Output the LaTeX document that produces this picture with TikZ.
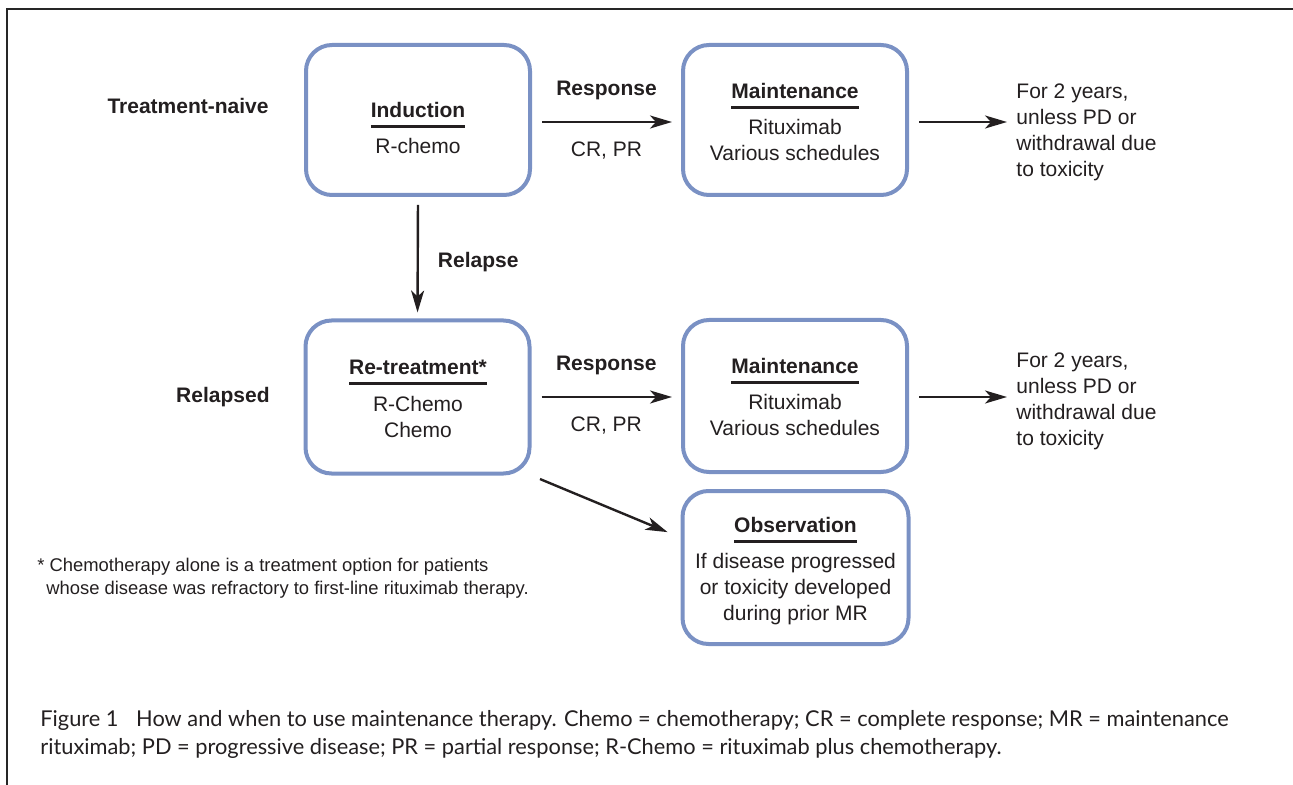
\documentclass[tikz,border=0pt]{standalone}
\usepackage{fontspec}
\setmainfont{Liberation Sans}
\newfontfamily\capfont{Lato}
\usetikzlibrary{arrows.meta,positioning}

\definecolor{boxblue}{RGB}{122,145,196}
\definecolor{ink}{RGB}{35,31,32}

\newsavebox\titlebox
\newcommand{\boxtitle}[1]{\sbox\titlebox{\bfseries #1}\rlap{\rule[-5.25pt]{\wd\titlebox}{1.5pt}}\usebox\titlebox}

\tikzset{
  stage/.style={draw=boxblue, line width=2pt, rounded corners=13pt,
    minimum width=112pt, minimum height=75pt, inner sep=0pt},
  stagetext/.style={align=center, inner sep=0pt, anchor=north,
    font=\fontsize{10.5pt}{13pt}\selectfont},
  lbl/.style={inner sep=0pt, font=\fontsize{10.5pt}{13pt}\selectfont},
  side/.style={inner sep=0pt, font=\fontsize{10.5pt}{13pt}\selectfont\bfseries},
  note/.style={align=left, inner sep=0pt, anchor=north west,
    font=\fontsize{10.5pt}{13pt}\selectfont},
  flow/.style={line width=1.2pt, -{Stealth[length=11pt,width=6.5pt,inset=3pt]}},
}

\begin{document}
\begin{tikzpicture}[x=0.5pt, y=-0.5pt, color=ink]
  \useasboundingbox (0,0) rectangle (1293,785);

  % Frame
  \draw[line width=1pt, black!85] (7,785) -- (7,9.5) -- (1293,9.5);

  % Row labels
  \node[side, anchor=east] (naive) at (269,106) {Treatment-naive};
  \node[side, anchor=east] (relapsed) at (270,397) {Relapsed};

  % Boxes
  \node[stage] (induct) at (418,120) {};
  \node[stage] (maintA) at (795,120) {};
  \node[stage, minimum height=76.5pt] (retreat) at (417.5,397) {};
  \node[stage, minimum height=76pt] (maintB) at (795,396) {};
  \node[stage, minimum width=113pt, minimum height=76.5pt] (observ) at (795.5,567.5) {};

  % Box contents
  \node[stagetext] (induct-txt) at (418,102) {\boxtitle{Induction}\\[5pt]R-chemo};
  \node[stagetext] (maintA-txt) at (795,83) {\boxtitle{Maintenance}\\[5pt]Rituximab\\Various schedules};
  \node[stagetext] (retreat-txt) at (418,360) {\boxtitle{Re-treatment*}\\[5.5pt]R-Chemo\\Chemo};
  \node[stagetext] (maintB-txt) at (795,358) {\boxtitle{Maintenance}\\[5pt]Rituximab\\Various schedules};
  \node[stagetext] (observ-txt) at (795.5,517) {\boxtitle{Observation}\\[5pt]If disease progressed\\or toxicity developed\\during prior MR};

  % Duration notes
  \node[note] (noteA) at (1016,83) {For 2 years,\\unless PD or\\withdrawal due\\to toxicity};
  \node[note] (noteB) at (1016,352) {For 2 years,\\unless PD or\\withdrawal due\\to toxicity};

  % Arrows
  \draw[flow, shorten <=5pt, shorten >=4.5pt] ([yshift=-1pt]induct.east) --
    node[side, above=10.3pt] (respA) {Response}
    node[lbl, below=9.5pt] (crA) {CR, PR} ([yshift=-1pt]maintA.west);
  \draw[flow, shorten <=5pt, shorten >=4.5pt] ([yshift=-1pt]maintA.east) -- ([yshift=-1pt]maintA.east -| noteA.west);
  \draw[flow, shorten <=4pt, shorten >=3pt] (induct.south) --
    node[side, right=9.5pt, yshift=-2pt] (relapse) {Relapse} (retreat.north);
  \draw[flow, shorten <=5pt, shorten >=4.5pt] (retreat.east) --
    node[side, above=10.3pt] (respB) {Response}
    node[lbl, below=9.5pt] (crB) {CR, PR} (retreat.east -| maintB.west);
  \draw[flow, shorten <=5pt, shorten >=4.5pt] (retreat.east -| maintB.east) -- (retreat.east -| noteB.west);
  \draw[flow, shorten <=4.6pt, shorten >=7pt] (retreat.south east) -- ([yshift=15pt]observ.west);

  % Footnote
  \node[inner sep=0pt, anchor=north west, align=left, font=\fontsize{9.2pt}{11.5pt}\selectfont] (footnote) at (37,558)
    {* Chemotherapy alone is a treatment option for patients\\\hspace*{4.5pt}whose disease was refractory to first-line rituximab therapy.};

  % Caption
  \node[inner sep=0pt, anchor=north west, align=left, font=\capfont\fontsize{10.9pt}{14pt}\selectfont] (caption) at (40,710)
    {Figure 1\hspace{6pt} How and when to use maintenance therapy. Chemo = chemotherapy; CR = complete response; MR = maintenance\\rituximab; PD = progressive disease; PR = partial response; R-Chemo = rituximab plus chemotherapy.};
\end{tikzpicture}
\end{document}
